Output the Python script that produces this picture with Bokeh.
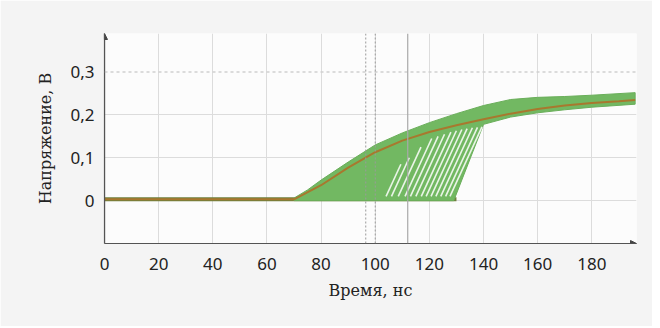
from bokeh.plotting import figure
from bokeh.models import FixedTicker, Arrow, NormalHead, Span
from bokeh.embed import file_html
from bokeh.resources import INLINE

# --- data ---
x_ticks = [0, 20, 40, 60, 80, 100, 120, 140, 160, 180]
y_ticks = [0, 0.1, 0.2, 0.3]
y_tick_labels = ["0", "0,1", "0,2", "0,3"]

# mean (orange) curve
mean_t = [0, 70, 80, 90, 100, 110, 120, 130, 140, 150, 160, 170, 180, 190, 196]
mean_v = [0.003, 0.003, 0.036, 0.077, 0.113, 0.140, 0.160, 0.176, 0.190, 0.203, 0.214, 0.222, 0.228, 0.232, 0.235]

# upper envelope of the trace bundle
upper_t = [70, 75, 80, 90, 100, 110, 120, 130, 140, 150, 160, 170, 180, 196]
upper_v = [0.006, 0.025, 0.048, 0.090, 0.130, 0.158, 0.182, 0.203, 0.222, 0.236, 0.241, 0.243, 0.246, 0.252]

# lower envelope (reversed path: from right end back to start of rise)
lower_t = [196, 180, 170, 160, 150, 140, 129, 70]
lower_v = [0.225, 0.218, 0.212, 0.205, 0.195, 0.178, 0.0, 0.0]

# flat baseline of all traces
base_t = [0, 130]
base_v = [0.003, 0.003]

# gaps (white stripes) between late-switching traces
gap_t0 = [104.0, 106.0, 108.5, 111.0, 113.0, 115.0, 117.0, 118.8, 120.6, 122.4, 124.2, 126.0, 127.6]
gap_v1 = [0.085, 0.100, 0.125, 0.145, 0.150, 0.155, 0.160, 0.163, 0.166, 0.168, 0.170, 0.171, 0.172]
rise_slope = 0.0137  # V per ns for the steep switching edge
gap_v0 = 0.010

# measurement marker lines
marker_t = [96.5, 100.0]
marker2_t = [112.0]

# --- figure ---
p = figure(width=652, height=326, x_range=(0, 196.5), y_range=(-0.1, 0.39),
           output_backend="svg", toolbar_location=None,
           min_border_left=104, min_border_right=16, min_border_top=33, min_border_bottom=83)
p.border_fill_color = "#f4f4f4"
p.background_fill_color = "#fcfcfc"
p.outline_line_color = None

p.xaxis.ticker = FixedTicker(ticks=x_ticks)
p.yaxis.ticker = FixedTicker(ticks=y_ticks)
p.yaxis.major_label_overrides = {t: l for t, l in zip(y_ticks, y_tick_labels)}

for ax in (p.xaxis, p.yaxis):
    ax.major_tick_line_color = None
    ax.minor_tick_line_color = None
    ax.major_tick_out = 0
    ax.major_tick_in = 0
    ax.minor_tick_out = 0
    ax.axis_line_color = "#555555"
    ax.axis_line_width = 1.2
    ax.major_label_text_font = "Noto Sans"
    ax.major_label_text_font_size = "17px"
    ax.major_label_text_color = "#222222"
    ax.axis_label_text_font = "DejaVu Serif"
    ax.axis_label_text_font_size = "16px"
    ax.axis_label_text_font_style = "normal"
    ax.axis_label_text_color = "#222222"

p.xaxis.axis_label = "Время, нс"
p.yaxis.axis_label = "Напряжение, В"
p.xaxis.major_label_standoff = 14
p.yaxis.major_label_standoff = 10
p.xaxis.axis_label_standoff = 8
p.yaxis.axis_label_standoff = 12

p.xgrid.grid_line_color = "#dcdcdc"
p.ygrid.grid_line_color = "#dcdcdc"
p.xgrid.ticker = FixedTicker(ticks=x_ticks)
p.ygrid.ticker = FixedTicker(ticks=y_ticks[:3])

# dashed line at 0.3
p.add_layout(Span(location=y_ticks[3], dimension="width", line_color="#cfcfcf",
                  line_dash="3 3", line_width=1.5))
for t in marker_t:
    p.add_layout(Span(location=t, dimension="height", line_color="#9a9a9a",
                      line_dash="2 2", line_width=1))
for t in marker2_t:
    p.add_layout(Span(location=t, dimension="height", line_color="#a8a8a8",
                      line_width=1.2))

# baseline
p.line(base_t, base_v, line_color="#6f7f3c", line_width=4)

# green bundle
patch_t = upper_t + lower_t
patch_v = upper_v + lower_v
p.patch(patch_t, patch_v, fill_color="#72b862", line_color="#6aae5a", line_width=1)

# white gaps
gap_xs = []
gap_ys = []
for t0, v1 in zip(gap_t0, gap_v1):
    t1 = t0 + (v1 - gap_v0) / rise_slope
    gap_xs.append([t0, t1])
    gap_ys.append([gap_v0, v1])
p.multi_line(gap_xs, gap_ys, line_color="white", line_width=1.6, line_alpha=0.85)

# mean curve
p.line(mean_t, mean_v, line_color="#a8782e", line_width=2)

# axis arrows
p.add_layout(Arrow(end=NormalHead(size=6, fill_color="#444444", line_color="#444444"),
                   x_start=0, y_start=-0.1, x_end=196.5, y_end=-0.1,
                   line_color="#555555", line_width=1.2))
p.add_layout(Arrow(end=NormalHead(size=6, fill_color="#444444", line_color="#444444"),
                   x_start=0, y_start=-0.1, x_end=0, y_end=0.39,
                   line_color="#555555", line_width=1.2))

open("out.html", "w").write(file_html(p, INLINE))
